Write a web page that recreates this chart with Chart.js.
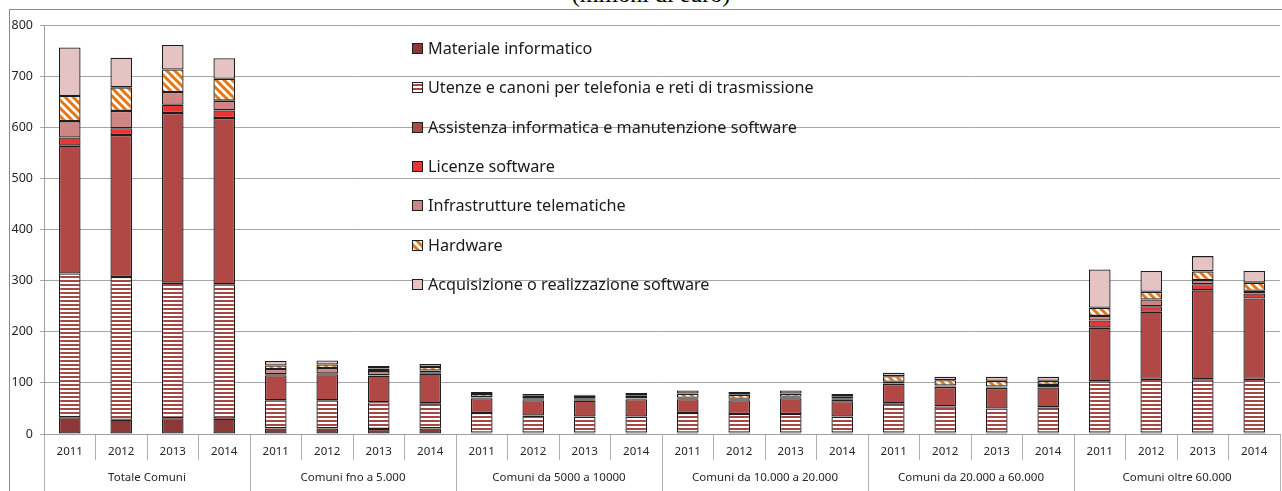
<!DOCTYPE html>
<html>
<head>
<meta charset="utf-8">
<script src="https://cdn.jsdelivr.net/npm/chart.js@4/dist/chart.umd.min.js"></script>
<style>
html, body { margin: 0; padding: 0; background: #fff; overflow: hidden; }
#wrap { position: relative; width: 1282px; height: 491px; }
#title { position: absolute; left: 0; width: 1302px; top: -18px; text-align: center;
         font: 24px 'Liberation Serif', serif; line-height: 24px; color: #000; }
#chart { position: absolute; left: 0; top: 0; }
</style>
</head>
<body>
<div id="wrap">
  <div id="title">(milioni di euro)</div>
  <canvas id="chart" width="1282" height="491"></canvas>
</div>
<script>
const years = ['2011', '2012', '2013', '2014'];
const groups = [
    'Totale Comuni',
    'Comuni fno a 5.000',
    'Comuni da 5000 a 10000',
    'Comuni da 10.000 a 20.000',
    'Comuni da 20.000 a 60.000',
    'Comuni oltre 60.000',
];
const yTicks = [0, 100, 200, 300, 400, 500, 600, 700, 800];

// values per bar: 6 groups x 4 years (milioni di euro)
const materiale = [33, 28, 31, 30, 11, 11, 10, 11, 3, 3, 3, 3, 3, 3, 3, 3, 3, 3, 3, 3, 3, 3, 3, 3];
const utenze = [281, 279, 265, 263, 55, 55, 52, 49, 38, 33, 31, 31, 38, 36, 36, 31, 57, 51, 47, 49, 100, 105, 104, 105];
const assistenza = [250, 278, 332, 325, 49, 51, 52, 58, 29, 30, 31, 34, 27, 27, 31, 30, 38, 38, 40, 39, 105, 131, 174, 157];
const licenze = [16, 13, 16, 15, 2, 1, 1, 2, 1, 2, 3, 1, 1, 1, 1, 3, 1, 1, 1, 3, 14, 11, 12, 10];
const infrastrutture = [32, 34, 25, 19, 10, 11, 8, 4, 1, 2, 2, 1, 2, 2, 2, 2, 3, 2, 2, 2, 9, 13, 8, 5];
const hardware = [49, 46, 44, 43, 7, 7, 5, 7, 6, 5, 5, 5, 8, 8, 6, 5, 11, 10, 11, 8, 16, 15, 17, 16];
const acquisizione = [95, 58, 48, 40, 9, 8, 5, 6, 4, 3, 2, 5, 6, 5, 6, 4, 7, 7, 8, 8, 75, 41, 30, 23];

renderChart();

function stripePattern() {
    const c = document.createElement('canvas');
    c.width = 4; c.height = 4;
    const g = c.getContext('2d');
    g.fillStyle = '#fff';
    g.fillRect(0, 0, 4, 4);
    g.fillStyle = '#a84545';
    g.fillRect(0, 0, 4, 2);
    return g.createPattern(c, 'repeat');
}

function hatchPattern() {
    const s = 8;
    const c = document.createElement('canvas');
    c.width = s; c.height = s;
    const g = c.getContext('2d');
    g.fillStyle = '#fff';
    g.fillRect(0, 0, s, s);
    g.strokeStyle = '#e8750f';
    g.lineWidth = 3;
    g.beginPath();
    g.moveTo(-s, 0); g.lineTo(s * 2, s * 3);
    g.moveTo(-s, -s); g.lineTo(s * 2, s * 2);
    g.moveTo(0, -s); g.lineTo(s * 2, s);
    g.stroke();
    return g.createPattern(c, 'repeat');
}

function renderChart() {
    const labels = [];
    groups.forEach(() => years.forEach(y => labels.push(y)));

    const edge = '#1e1e1e';
    const series = [
        { label: 'Materiale informatico', data: materiale, backgroundColor: '#8c3836' },
        { label: 'Utenze e canoni per telefonia e reti di trasmissione', data: utenze, backgroundColor: stripePattern() },
        { label: 'Assistenza informatica e manutenzione software', data: assistenza, backgroundColor: '#b04846' },
        { label: 'Licenze software', data: licenze, backgroundColor: '#e83434' },
        { label: 'Infrastrutture telematiche', data: infrastrutture, backgroundColor: '#cf8583' },
        { label: 'Hardware', data: hardware, backgroundColor: hatchPattern() },
        { label: 'Acquisizione o realizzazione software', data: acquisizione, backgroundColor: '#e6c3c3' },
    ];
    series.forEach(s => {
        s.borderColor = edge;
        s.borderWidth = 1.3;
        s.borderSkipped = false;
        s.categoryPercentage = 1;
        s.barPercentage = 0.42;
    });

    // outer frame of the figure
    const framePlugin = {
        id: 'frame',
        beforeDraw(chart) {
            const ctx = chart.ctx;
            ctx.save();
            ctx.strokeStyle = '#8a8a8a';
            ctx.lineWidth = 1;
            ctx.strokeRect(9.5, 9.5, 1400, 600);
            ctx.restore();
        }
    };

    // legend drawn inside the plot, one row per series
    const legendPlugin = {
        id: 'insideLegend',
        afterDraw(chart) {
            const ctx = chart.ctx;
            ctx.save();
            ctx.font = '16.2px "Noto Sans"';
            ctx.textBaseline = 'middle';
            chart.data.datasets.forEach((ds, i) => {
                const y = Math.round(48 + i * 39.3);
                ctx.fillStyle = ds.backgroundColor;
                ctx.fillRect(412, y - 5, 11, 11);
                ctx.strokeStyle = edge;
                ctx.lineWidth = 1;
                ctx.strokeRect(412.5, y - 4.5, 10, 10);
                ctx.fillStyle = '#1a1a1a';
                ctx.fillText(ds.label, 428, y + 1);
            });
            ctx.restore();
        }
    };

    new Chart(document.getElementById('chart'), {
        type: 'bar',
        data: { labels: labels, datasets: series },
        options: {
            responsive: false,
            animation: false,
            layout: { padding: { top: 25, right: 2, bottom: 7, left: 0 } },
            plugins: {
                legend: { display: false },
                tooltip: { enabled: false },
            },
            scales: {
                x: {
                    stacked: true,
                    offset: true,
                    grid: {
                        offset: true,
                        drawOnChartArea: false,
                        tickLength: 26,
                        color: '#b0b0b0',
                    },
                    border: { color: '#a0a0a0' },
                    ticks: {
                        padding: -15,
                        maxRotation: 0,
                        autoSkip: false,
                        color: '#262626',
                        font: { family: 'Noto Sans', size: 11.5 },
                    },
                    afterFit(scale) { scale.height = 24; },
                },
                x2: {
                    type: 'category',
                    labels: groups,
                    position: 'bottom',
                    weight: 1,
                    offset: true,
                    grid: {
                        offset: true,
                        drawOnChartArea: false,
                        tickLength: 33,
                        color: '#b0b0b0',
                    },
                    border: { display: false },
                    ticks: {
                        padding: -20,
                        maxRotation: 0,
                        autoSkip: false,
                        color: '#262626',
                        font: { family: 'Noto Sans', size: 11.5 },
                    },
                    afterFit(scale) { scale.height = 26; },
                },
                y: {
                    stacked: true,
                    min: 0,
                    max: 800,
                    afterBuildTicks(scale) {
                        scale.ticks = yTicks.map(v => ({ value: v }));
                    },
                    grid: {
                        color: '#a6a6a6',
                        tickLength: 4,
                    },
                    border: { color: '#a0a0a0' },
                    ticks: {
                        padding: 7,
                        color: '#262626',
                        font: { family: 'Noto Sans', size: 12.5 },
                    },
                    afterFit(scale) { scale.width = 44; },
                },
            },
        },
        plugins: [framePlugin, legendPlugin],
    });
}
</script>
</body>
</html>
